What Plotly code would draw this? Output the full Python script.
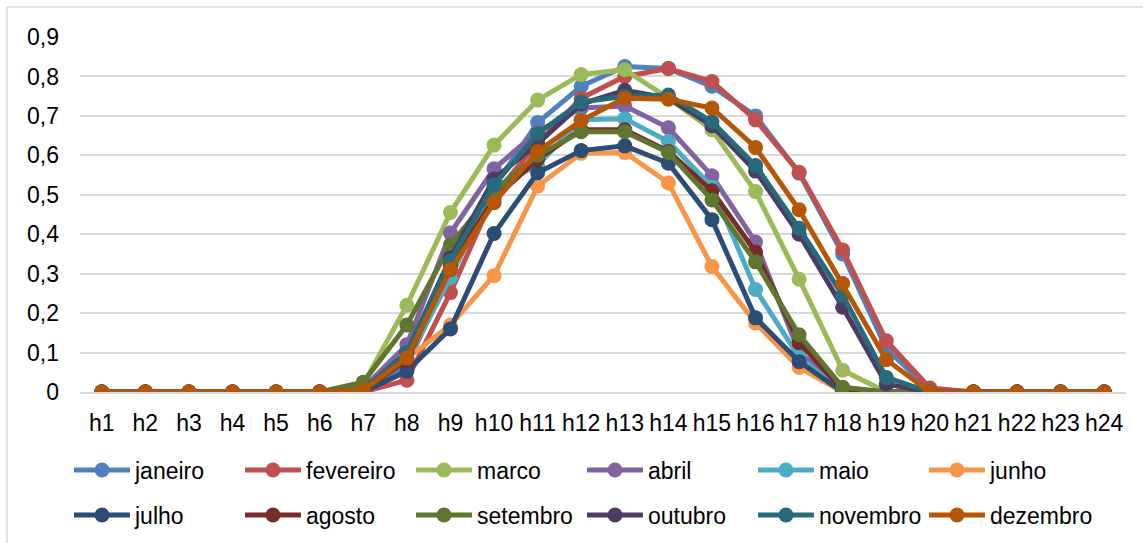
import plotly.graph_objects as go

hours = [f"h{i}" for i in range(1, 25)]

z6 = [0, 0, 0, 0, 0, 0]
z4 = [0, 0, 0, 0]
# values h7..h20
janeiro   = z6 + [0.000, 0.070, 0.300, 0.520, 0.683, 0.775, 0.825, 0.820, 0.775, 0.700, 0.555, 0.350, 0.110, 0.005] + z4
fevereiro = z6 + [0.000, 0.030, 0.252, 0.500, 0.630, 0.745, 0.800, 0.820, 0.787, 0.690, 0.557, 0.360, 0.130, 0.010] + z4
marco     = z6 + [0.020, 0.220, 0.455, 0.626, 0.740, 0.805, 0.817, 0.745, 0.665, 0.508, 0.286, 0.055, 0.000, 0.000] + z4
abril     = z6 + [0.010, 0.120, 0.403, 0.566, 0.660, 0.720, 0.725, 0.670, 0.548, 0.380, 0.100, 0.010, 0.000, 0.000] + z4
maio      = z6 + [0.005, 0.080, 0.290, 0.520, 0.575, 0.690, 0.693, 0.635, 0.520, 0.260, 0.088, 0.000, 0.000, 0.000] + z4
junho     = z6 + [0.005, 0.085, 0.170, 0.295, 0.522, 0.605, 0.607, 0.530, 0.318, 0.175, 0.062, 0.000, 0.000, 0.000] + z4
julho     = z6 + [0.000, 0.053, 0.160, 0.402, 0.556, 0.612, 0.624, 0.580, 0.437, 0.188, 0.077, 0.000, 0.000, 0.000] + z4
agosto    = z6 + [0.005, 0.080, 0.320, 0.490, 0.590, 0.665, 0.665, 0.610, 0.510, 0.355, 0.125, 0.005, 0.000, 0.000] + z4
setembro  = z6 + [0.025, 0.170, 0.373, 0.510, 0.600, 0.660, 0.660, 0.607, 0.487, 0.330, 0.145, 0.012, 0.000, 0.000] + z4
outubro   = z6 + [0.005, 0.100, 0.340, 0.540, 0.630, 0.730, 0.765, 0.745, 0.675, 0.560, 0.400, 0.215, 0.020, 0.000] + z4
novembro  = z6 + [0.005, 0.100, 0.332, 0.525, 0.655, 0.735, 0.750, 0.753, 0.685, 0.574, 0.415, 0.245, 0.037, 0.000] + z4
dezembro  = z6 + [0.005, 0.086, 0.310, 0.480, 0.610, 0.688, 0.745, 0.742, 0.720, 0.620, 0.462, 0.275, 0.082, 0.000] + z4

names = ["janeiro", "fevereiro", "marco", "abril", "maio", "junho",
         "julho", "agosto", "setembro", "outubro", "novembro", "dezembro"]
series = [janeiro, fevereiro, marco, abril, maio, junho,
          julho, agosto, setembro, outubro, novembro, dezembro]
colors = ["#4F81BD", "#C0504D", "#9BBB59", "#8064A2", "#4BACC6", "#F79646",
          "#2C4D75", "#772C2A", "#5F7530", "#4D3B62", "#276A7C", "#B65708"]

FONT = "Liberation Sans, Arial, sans-serif"
fig = go.Figure()
for i, (n, s, c) in enumerate(zip(names, series, colors)):
    fig.add_trace(go.Scatter(
        x=hours, y=s, name=n, mode="lines+markers",
        line=dict(color=c, width=5),
        marker=dict(color=c, size=15),
        legend="legend" if i < 6 else "legend2",
    ))

W, H = 1143, 543
L, R, T, B = 80, 17, 37, 151
pw, ph = W - L - R, H - T - B

def px(xp):
    return (xp - L) / pw

def py(yp):
    return (H - B - yp) / ph

def cx(xp):
    return xp / W

def cy(yp):
    return (H - yp) / H

leg_common = dict(orientation="h", entrywidth=100, entrywidthmode="pixels",
                  font=dict(family=FONT, size=23, color="#000000"),
                  xanchor="left", yanchor="middle", itemwidth=56,
                  xref="container", yref="container",
                  borderwidth=0, bgcolor="rgba(0,0,0,0)", tracegroupgap=0)

fig.update_layout(
    width=W, height=H,
    margin=dict(l=L, r=R, t=T, b=B, pad=0),
    paper_bgcolor="white", plot_bgcolor="white",
    separators=",.",
    font=dict(family=FONT, size=23, color="#000000"),
    xaxis=dict(type="category", categoryorder="array", categoryarray=hours,
               range=[-0.5, 23.5], showgrid=False, showline=True,
               linecolor="#D9D9D9", linewidth=1.5, ticks="",
               ticklabelstandoff=10, automargin=False,
               tickfont=dict(family=FONT, size=23, color="#000000")),
    yaxis=dict(range=[0, 0.9], dtick=0.1, tick0=0, showgrid=True,
               gridcolor="#D9D9D9", gridwidth=1.5, zeroline=False,
               showline=False, ticks="", ticklabelstandoff=20,
               automargin=False,
               tickfont=dict(family=FONT, size=23, color="#000000")),
    legend=dict(x=cx(69), y=cy(470), **leg_common),
    legend2=dict(x=cx(69), y=cy(515), **leg_common),
    shapes=[
        dict(type="line", xref="paper", yref="paper", x0=px(7), x1=px(7),
             y0=py(7), y1=py(H), line=dict(color="#D9D9D9", width=1.5)),
        dict(type="line", xref="paper", yref="paper", x0=px(7), x1=px(W),
             y0=py(7), y1=py(7), line=dict(color="#D9D9D9", width=1.5)),
    ],
)

fig.write_html("out.html")
